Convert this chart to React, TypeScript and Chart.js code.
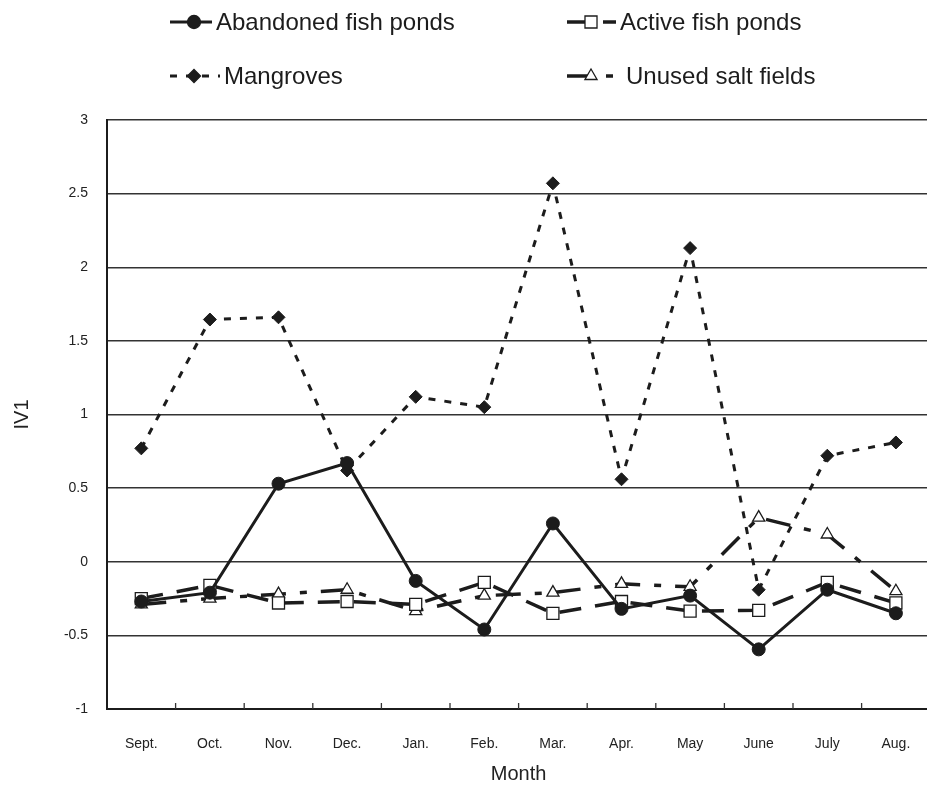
import React, { useEffect, useRef } from "react";
import { Chart, registerables } from "chart.js";

Chart.register(...registerables);

const months = ["Sept.", "Oct.", "Nov.", "Dec.", "Jan.", "Feb.", "Mar.", "Apr.", "May", "June", "July", "Aug."];
const abandoned = [-0.27, -0.21, 0.53, 0.67, -0.13, -0.46, 0.26, -0.32, -0.23, -0.595, -0.19, -0.35];
const active = [-0.25, -0.16, -0.28, -0.27, -0.29, -0.14, -0.35, -0.27, -0.335, -0.33, -0.14, -0.28];
const mangroves = [0.77, 1.645, 1.66, 0.62, 1.12, 1.05, 2.57, 0.56, 2.13, -0.19, 0.72, 0.81];
const unused = [-0.29, -0.25, -0.22, -0.19, -0.335, -0.23, -0.21, -0.15, -0.17, 0.3, 0.185, -0.2];
const seriesNames = ["Abandoned fish ponds", "Active fish ponds", "Mangroves", "Unused salt fields"];
const yTickLabels = ["-1", "-0.5", "0", "0.5", "1", "1.5", "2", "2.5", "3"];

const INK = "#1c1c1c";
const FONT = "'Liberation Sans', Arial, sans-serif";

function drawMarker(ctx: CanvasRenderingContext2D, style: string, x: number, y: number, r: number, fill: string) {
  ctx.save();
  ctx.beginPath();
  if (style === "circle") {
    ctx.arc(x, y, r, 0, Math.PI * 2);
  } else if (style === "rect") {
    const s = Math.SQRT1_2 * r;
    ctx.rect(x - s, y - s, 2 * s, 2 * s);
  } else if (style === "rectRot") {
    ctx.moveTo(x - r, y);
    ctx.lineTo(x, y - r);
    ctx.lineTo(x + r, y);
    ctx.lineTo(x, y + r);
    ctx.closePath();
  } else if (style === "triangle") {
    const h = r * 1.5;
    const half = r * Math.sqrt(3) / 2;
    ctx.moveTo(x, y - r);
    ctx.lineTo(x + half, y + h - r);
    ctx.lineTo(x - half, y + h - r);
    ctx.closePath();
  }
  ctx.setLineDash([]);
  ctx.fillStyle = fill;
  ctx.fill();
  ctx.lineWidth = 1.3;
  ctx.strokeStyle = INK;
  ctx.stroke();
  ctx.restore();
}

const customPlugin = {
  id: "customDecor",
  afterDraw(chart: any) {
    const { ctx, chartArea } = chart;
    const xs = chart.scales.x;
    ctx.save();
    ctx.strokeStyle = "#333";
    ctx.lineWidth = 1.3;
    for (let i = 0; i < months.length - 1; i++) {
      const x = (xs.getPixelForValue(i) + xs.getPixelForValue(i + 1)) / 2;
      ctx.beginPath();
      ctx.moveTo(x, chartArea.bottom);
      ctx.lineTo(x, chartArea.bottom - 6);
      ctx.stroke();
    }
    ctx.restore();

    const pos = [
      { x: 170, y: 22, tx: 216 },
      { x: 567, y: 22, tx: 620 },
      { x: 170, y: 76, tx: 224 },
      { x: 567, y: 76, tx: 626 },
    ];
    chart.data.datasets.forEach((ds: any, i: number) => {
      const p = pos[i];
      const len = p.tx - p.x - 4;
      ctx.save();
      ctx.strokeStyle = INK;
      ctx.lineWidth = ds.borderWidth;
      ctx.setLineDash(ds.borderDash || []);
      ctx.beginPath();
      ctx.moveTo(p.x, p.y);
      ctx.lineTo(p.x + len, p.y);
      ctx.stroke();
      ctx.restore();
      drawMarker(ctx, ds.pointStyle, p.x + 24, p.y, ds.pointRadius, ds.pointBackgroundColor);
      ctx.save();
      ctx.fillStyle = INK;
      ctx.font = `24px ${FONT}`;
      ctx.textBaseline = "middle";
      ctx.textAlign = "left";
      ctx.fillText(ds.label, p.tx, p.y + 1);
      ctx.restore();
    });
  },
};

export default function App() {
  const ref = useRef<HTMLCanvasElement>(null);
  useEffect(() => {
    if (!ref.current) return;
    const chart = new Chart(ref.current, {
      type: "line",
      data: {
        labels: months,
        datasets: [
          {
            label: seriesNames[0],
            data: abandoned,
            borderColor: INK,
            borderWidth: 3,
            borderDash: [],
            pointStyle: "circle",
            pointRadius: 6.5,
            pointBackgroundColor: INK,
            pointBorderColor: INK,
            pointBorderWidth: 1,
            fill: false,
            tension: 0,
          },
          {
            label: seriesNames[1],
            data: active,
            borderColor: INK,
            borderWidth: 3.5,
            borderDash: [22, 14],
            pointStyle: "rect",
            pointRadius: 8.5,
            pointBackgroundColor: "#ffffff",
            pointBorderColor: INK,
            pointBorderWidth: 1.3,
            fill: false,
            tension: 0,
          },
          {
            label: seriesNames[2],
            data: mangroves,
            borderColor: INK,
            borderWidth: 3,
            borderDash: [7, 9],
            pointStyle: "rectRot",
            pointRadius: 6.5,
            pointBackgroundColor: INK,
            pointBorderColor: INK,
            pointBorderWidth: 1,
            fill: false,
            tension: 0,
          },
          {
            label: seriesNames[3],
            data: unused,
            borderColor: INK,
            borderWidth: 3.5,
            borderDash: [25, 14, 7, 14],
            pointStyle: "triangle",
            pointRadius: 7,
            pointBackgroundColor: "#ffffff",
            pointBorderColor: INK,
            pointBorderWidth: 1.3,
            fill: false,
            tension: 0,
          },
        ] as any,
      },
      options: {
        animation: false,
        responsive: false,
        layout: { padding: { top: 120, left: 0, right: 3, bottom: 0 } },
        plugins: {
          legend: { display: false },
          tooltip: { enabled: false },
        },
        scales: {
          x: {
            type: "category",
            offset: true,
            grid: { display: true, drawOnChartArea: false, drawTicks: false },
            border: { display: true, color: INK, width: 2 },
            ticks: {
              color: "#222",
              font: { family: FONT, size: 14 },
              padding: 27,
              maxRotation: 0,
              autoSkip: false,
            },
            title: {
              display: true,
              text: "Month",
              color: "#222",
              font: { family: FONT, size: 20 },
              padding: { top: 0, bottom: 0 },
            },
            afterFit(scale: any) {
              scale.height = 77;
            },
          },
          y: {
            min: -1,
            max: 3,
            ticks: {
              stepSize: 0.5,
              color: "#222",
              font: { family: FONT, size: 14 },
              padding: 19,
              callback: (_v: any, i: number) => yTickLabels[i],
            },
            grid: { color: "#333", lineWidth: 1.5, drawTicks: false },
            border: { display: true, color: INK, width: 2 },
            title: {
              display: true,
              text: "IV1",
              color: "#222",
              font: { family: FONT, size: 20 },
              padding: { top: 10, bottom: 0 },
            },
            afterFit(scale: any) {
              scale.width = 107;
            },
          },
        },
      } as any,
      plugins: [customPlugin],
    });
    return () => chart.destroy();
  }, []);
  return (
    <div style={{ position: "fixed", left: 0, top: 0, width: 927, height: 786, overflow: "hidden", background: "#fff" }}>
      <canvas ref={ref} width={940} height={786} style={{ display: "block", width: 940, height: 786 }} />
    </div>
  );
}
